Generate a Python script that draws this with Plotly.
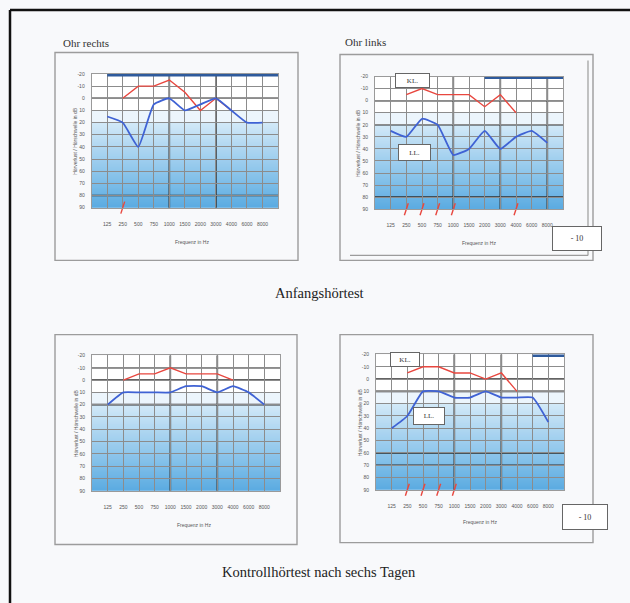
import plotly.graph_objects as go

W, H = 630, 603

# ---------------- data ----------------
freq_labels = ["125", "250", "500", "750", "1000", "1500", "2000", "3000", "4000", "6000", "8000"]
db_ticks = list(range(-20, 100, 10))

# Chart 1: Ohr rechts (Anfangshörtest)
c1_kl_x = [1, 2, 3, 4, 5, 6, 7, 8]
c1_kl_y = [0, -10, -10, -15, -5, 10, 0, 10]
c1_ll_x = [0, 1, 2, 3, 4, 5, 6, 7, 8, 9, 10]
c1_ll_y = [15, 20, 40, 5, 0, 10, 5, 0, 10, 20, 20]
c1_bar_x = [0, 11]
c1_marks = [1]

# Chart 2: Ohr links (Anfangshörtest)
c2_kl_x = [1, 2, 3, 4, 5, 6, 7, 8]
c2_kl_y = [-5, -10, -5, -5, -5, 5, -5, 10]
c2_ll_x = [0, 1, 2, 3, 4, 5, 6, 7, 8, 9, 10]
c2_ll_y = [25, 30, 15, 20, 45, 40, 25, 40, 30, 25, 35]
c2_bar_x = [6, 11]
c2_marks = [1, 2, 3, 4, 8]

# Chart 3: Ohr rechts (Kontrollhörtest)
c3_kl_x = [1, 2, 3, 4, 5, 6, 7, 8]
c3_kl_y = [0, -5, -5, -10, -5, -5, -5, 0]
c3_ll_x = [0, 1, 2, 3, 4, 5, 6, 7, 8, 9, 10]
c3_ll_y = [20, 10, 10, 10, 10, 5, 5, 10, 5, 10, 20]
c3_bar_x = []
c3_marks = []

# Chart 4: Ohr links (Kontrollhörtest)
c4_kl_x = [1, 2, 3, 4, 5, 6, 7, 8]
c4_kl_y = [-5, -10, -10, -5, -5, 0, -5, 10]
c4_ll_x = [0, 1, 2, 3, 4, 5, 6, 7, 8, 9, 10]
c4_ll_y = [40, 30, 10, 10, 15, 15, 10, 15, 15, 15, 35]
c4_bar_x = [9, 11]
c4_marks = [1, 2, 3, 4]

# ---------------- layout helpers ----------------
def px(x):
    return x / W

def py(y):
    return 1 - y / H

charts = [
    dict(kl=(c1_kl_x, c1_kl_y), ll=(c1_ll_x, c1_ll_y), bar=c1_bar_x, marks=c1_marks,
         box=(91.7, 278, 71.7, 206.7), frame=(55, 50, 298, 260), boldh=[0, 80], boldv=[4, 7],
         title="Ohr rechts", title_pos=(61, 40), xt=(192, 241), yt=75),
    dict(kl=(c2_kl_x, c2_kl_y), ll=(c2_ll_x, c2_ll_y), bar=c2_bar_x, marks=c2_marks,
         box=(375, 563, 74.3, 208.3), frame=(340, 52, 593, 260), boldh=[0, 20, 80], boldv=[4, 7, 10],
         title="Ohr links", title_pos=(343, 39), xt=(479, 242), yt=358),
    dict(kl=(c3_kl_x, c3_kl_y), ll=(c3_ll_x, c3_ll_y), bar=c3_bar_x, marks=c3_marks,
         box=(92, 280, 356, 492.7), frame=(55, 335, 297, 547), boldh=[-10, 0, 20], boldv=[4, 7],
         title=None, title_pos=None, xt=(194, 527), yt=76),
    dict(kl=(c4_kl_x, c4_kl_y), ll=(c4_ll_x, c4_ll_y), bar=c4_bar_x, marks=c4_marks,
         box=(376, 564, 355, 491.7), frame=(340, 335, 593, 545), boldh=[0, 10, 60, 70], boldv=[4, 7],
         title=None, title_pos=None, xt=(480, 524), yt=360),
]

RED = "#e8473f"
BLUE = "#3f62d4"
BAR = "#2e5a9c"

fig = go.Figure()
shapes = []
annotations = []
layout_axes = {}

for i, c in enumerate(charts, start=1):
    xa = "x" if i == 1 else f"x{i}"
    ya = "y" if i == 1 else f"y{i}"
    xkey = "xaxis" if i == 1 else f"xaxis{i}"
    ykey = "yaxis" if i == 1 else f"yaxis{i}"
    x0, x1, y0, y1 = c["box"]

    layout_axes[xkey] = dict(
        domain=[px(x0), px(x1)], anchor=ya, range=[-1, 11],
        tickvals=list(range(-1, 12)), ticktext=[""] + freq_labels + [""],
        showgrid=True, gridcolor="#8c8c8c", gridwidth=1,
        ticks="outside", ticklen=11, tickcolor="rgba(0,0,0,0)",
        tickfont=dict(size=5, color="#555", family="Liberation Sans"),
        showline=True, linecolor="#9a9a9a", mirror=True, zeroline=False, fixedrange=True,
    )
    layout_axes[ykey] = dict(
        domain=[py(y1), py(y0)], anchor=xa, range=[90, -20],
        tickvals=db_ticks, ticktext=[str(v) for v in db_ticks],
        showgrid=True, gridcolor="#8c8c8c", gridwidth=1,
        ticks="outside", ticklen=5, tickcolor="rgba(0,0,0,0)",
        tickfont=dict(size=5, color="#555", family="Liberation Sans"),
        showline=True, linecolor="#9a9a9a", mirror=True, zeroline=False, fixedrange=True,
    )

    # gradient background (decoration)
    shapes.append(dict(type="rect", xref=f"{xa} domain", yref=ya, x0=0, x1=1, y0=10, y1=20.5,
                       fillcolor="rgb(236,245,252)", line_width=0, layer="below"))
    n = 70
    c_top = (210, 233, 248)
    c_bot = (92, 172, 226)
    for k in range(n):
        t = k / (n - 1)
        col = tuple(int(c_top[j] + (c_bot[j] - c_top[j]) * t) for j in range(3))
        shapes.append(dict(type="rect", xref=f"{xa} domain", yref=ya, x0=0, x1=1,
                           y0=20 + k * 70 / n, y1=min(90, 20 + (k + 1) * 70 / n + 1.0),
                           fillcolor=f"rgb{col}", line_width=0, layer="below"))
    # bold grid lines
    for hv in c["boldh"]:
        shapes.append(dict(type="line", xref=f"{xa} domain", yref=ya, x0=0, x1=1, y0=hv, y1=hv,
                           line=dict(color="#2f2f2f", width=1.6), layer="below"))
    for vv in c["boldv"]:
        shapes.append(dict(type="line", xref=xa, yref=f"{ya} domain", x0=vv, x1=vv, y0=0, y1=1,
                           line=dict(color="#2f2f2f", width=1.6), layer="below"))

    # frame around each chart
    fx0, fy0, fx1, fy1 = c["frame"]
    shapes.append(dict(type="rect", xref="paper", yref="paper", x0=px(fx0), x1=px(fx1),
                       y0=py(fy1), y1=py(fy0), line=dict(color="#9c9c9c", width=1.4)))

    # thick top bar
    if c["bar"]:
        fig.add_trace(go.Scatter(x=c["bar"], y=[-20] * len(c["bar"]), mode="lines",
                                 line=dict(color=BAR, width=5), xaxis=xa, yaxis=ya,
                                 cliponaxis=False, hoverinfo="skip"))
    # lines
    fig.add_trace(go.Scatter(x=c["kl"][0], y=c["kl"][1], mode="lines",
                             line=dict(color=RED, width=1.4), xaxis=xa, yaxis=ya))
    fig.add_trace(go.Scatter(x=c["ll"][0], y=c["ll"][1], mode="lines",
                             line=dict(color=BLUE, width=1.8, shape="spline", smoothing=0.4),
                             xaxis=xa, yaxis=ya))
    # red marks at the bottom of the axis
    if c["marks"]:
        fig.add_trace(go.Scatter(x=c["marks"], y=[90] * len(c["marks"]), mode="markers",
                                 marker=dict(symbol="line-ns", size=9, color=RED, angle=18,
                                             line=dict(color=RED, width=1.4)),
                                 xaxis=xa, yaxis=ya, cliponaxis=False))

    # titles
    if c["title"]:
        annotations.append(dict(text=c["title"], x=px(c["title_pos"][0]), y=py(c["title_pos"][1]),
                                xref="paper", yref="paper", xanchor="left", yanchor="middle",
                                showarrow=False,
                                font=dict(family="Liberation Serif", size=11, color="#333")))
    annotations.append(dict(text="Frequenz in Hz", x=px(c["xt"][0]), y=py(c["xt"][1]),
                            xref="paper", yref="paper", showarrow=False,
                            xanchor="center", yanchor="middle",
                            font=dict(family="Liberation Sans", size=5, color="#555")))
    annotations.append(dict(text="Hörverlust / Hörschwelle in dB", x=px(c["yt"]),
                            y=py((y0 + y1) / 2), xref="paper", yref="paper", showarrow=False,
                            xanchor="center", yanchor="middle", textangle=-90,
                            font=dict(family="Liberation Sans", size=5, color="#555")))

# KL / LL label boxes
def labelbox(text, cx, cy, w, h, size=7):
    annotations.append(dict(text=text, x=px(cx), y=py(cy), xref="paper", yref="paper",
                            xanchor="center", yanchor="middle",
                            showarrow=False, width=w, height=h, bgcolor="white",
                            bordercolor="#666", borderwidth=1, borderpad=0,
                            font=dict(family="Liberation Serif", size=size, color="#333")))

labelbox("KL.", 412, 78, 33, 13)
labelbox("LL.", 414, 151, 31, 15)
labelbox("KL.", 405, 360, 28, 13)
labelbox("LL.", 429, 417, 30, 16)
labelbox("- 10", 577, 238, 48, 23, 8)
labelbox("- 10", 585, 519, 44, 24, 8)

# captions
annotations.append(dict(text="Anfangshörtest", x=px(319), y=py(293), xref="paper", yref="paper",
                        xanchor="center", yanchor="middle", showarrow=False,
                        font=dict(family="Liberation Serif", size=14.5, color="#222")))
annotations.append(dict(text="Kontrollhörtest nach sechs Tagen", x=px(319), y=py(575),
                        xref="paper", yref="paper", xanchor="center", yanchor="middle",
                        showarrow=False,
                        font=dict(family="Liberation Serif", size=14.5, color="#222")))

# second frame line of chart 2
shapes.append(dict(type="line", xref="paper", yref="paper", x0=px(350), x1=px(588),
                   y0=py(255), y1=py(255), line=dict(color="#9c9c9c", width=1.2)))
shapes.append(dict(type="line", xref="paper", yref="paper", x0=px(588), x1=px(588),
                   y0=py(255), y1=py(58), line=dict(color="#9c9c9c", width=1.2)))

# page border (top and left)
shapes.append(dict(type="line", xref="paper", yref="paper", x0=px(10), x1=1.02,
                   y0=py(7), y1=py(7), line=dict(color="#111", width=2.5)))
shapes.append(dict(type="line", xref="paper", yref="paper", x0=px(10), x1=px(10),
                   y0=py(7), y1=-0.02, line=dict(color="#111", width=2.5)))

fig.update_layout(
    width=W, height=H, margin=dict(l=0, r=0, t=0, b=0),
    paper_bgcolor="#f8f9fb", plot_bgcolor="white",
    showlegend=False, shapes=shapes, annotations=annotations,
    **layout_axes,
)

fig.write_html("out.html", config={"displayModeBar": False},
               post_script="document.body.style.margin='0';document.body.style.overflow='hidden';")
